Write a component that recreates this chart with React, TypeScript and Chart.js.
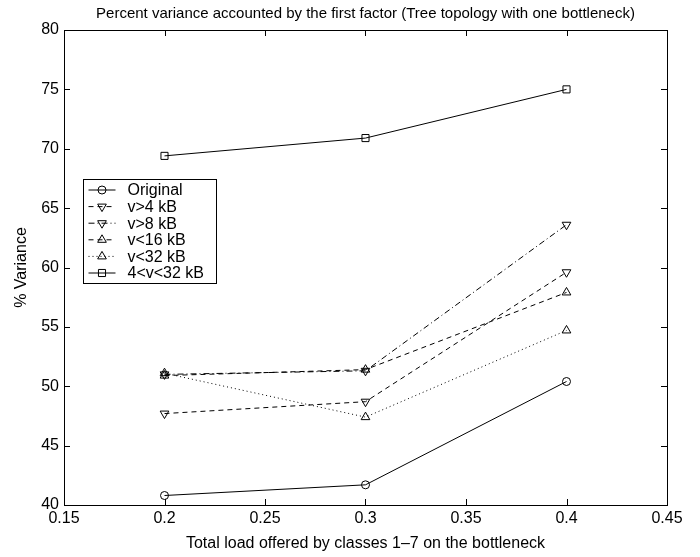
import { useEffect, useRef } from 'react';
import { Chart, registerables } from 'chart.js';

Chart.register(...registerables);

// ---- data ----
const loads = [0.2, 0.3, 0.4];
const seriesNames = ['Original', 'v>4 kB', 'v>8 kB', 'v<16 kB', 'v<32 kB', '4<v<32 kB'];
const original = [40.8, 41.7, 50.4];
const vGt4 = [47.7, 48.7, 59.6];
const vGt8 = [51.0, 51.3, 63.6];
const vLt16 = [50.9, 51.4, 57.9];
const vLt32 = [51.1, 47.4, 54.7];
const v4to32 = [69.4, 70.9, 75.0];
const xTicks = [0.15, 0.2, 0.25, 0.3, 0.35, 0.4, 0.45];
const yTicks = [40, 45, 50, 55, 60, 65, 70, 75, 80];

const chartTitle = 'Percent variance accounted by the first factor (Tree topology with one bottleneck)';
const xTitle = 'Total load offered by classes 1\u20137 on the bottleneck';
const yTitle = '% Variance';

// ---- styles ----
const FONT_FAMILY = '"Liberation Sans", Arial, Helvetica, sans-serif';
const seriesValues = [original, vGt4, vGt8, vLt16, vLt32, v4to32];
const dashes: number[][] = [[], [5, 4], [6, 3, 1, 3], [5, 4], [1, 3], []];
const markers = ['circle', 'triangle', 'triangle', 'triangle', 'triangle', 'rect'];
const rotations = [0, 180, 180, 0, 0, 0];
const radii = [4, 5, 5, 5, 5, 5];

function drawMarker(ctx: CanvasRenderingContext2D, style: string, x: number, y: number, r: number, rot: number) {
  ctx.save();
  ctx.setLineDash([]);
  ctx.beginPath();
  if (style === 'circle') {
    ctx.arc(x, y, r, 0, Math.PI * 2);
  } else if (style === 'triangle') {
    let rad = (rot * Math.PI) / 180;
    ctx.moveTo(x + Math.sin(rad) * r, y - Math.cos(rad) * r);
    rad += (2 * Math.PI) / 3;
    ctx.lineTo(x + Math.sin(rad) * r, y - Math.cos(rad) * r);
    rad += (2 * Math.PI) / 3;
    ctx.lineTo(x + Math.sin(rad) * r, y - Math.cos(rad) * r);
    ctx.closePath();
  } else {
    const s = Math.SQRT1_2 * r;
    ctx.rect(x - s, y - s, 2 * s, 2 * s);
  }
  ctx.stroke();
  ctx.restore();
}

const framePlugin = {
  id: 'matlabFrame',
  afterDraw(chart: any) {
    const { ctx, chartArea } = chart;
    const { left, right, top, bottom } = chartArea;
    const xs = chart.scales.x;
    const ys = chart.scales.y;
    ctx.save();
    // title, centred over the axes
    ctx.fillStyle = '#000';
    ctx.font = '15px ' + FONT_FAMILY;
    ctx.textAlign = 'center';
    ctx.textBaseline = 'middle';
    ctx.fillText(chartTitle, (left + right) / 2, 14);

    ctx.strokeStyle = '#000';
    ctx.lineWidth = 1;
    ctx.setLineDash([]);
    // box
    ctx.strokeRect(Math.round(left) + 0.5, Math.round(top) + 0.5, Math.round(right - left), Math.round(bottom - top));
    // inward ticks
    const tl = 6;
    ctx.beginPath();
    xTicks.forEach((v) => {
      const px = Math.round(xs.getPixelForValue(v)) + 0.5;
      ctx.moveTo(px, bottom);
      ctx.lineTo(px, bottom - tl);
      ctx.moveTo(px, top);
      ctx.lineTo(px, top + tl);
    });
    yTicks.forEach((v) => {
      const py = Math.round(ys.getPixelForValue(v)) + 0.5;
      ctx.moveTo(left, py);
      ctx.lineTo(left + tl, py);
      ctx.moveTo(right, py);
      ctx.lineTo(right - tl, py);
    });
    ctx.stroke();

    // legend
    const bx = 83.5, by = 179.5, bw = 133, rowH = 16.6;
    const bh = 104;
    ctx.fillStyle = '#fff';
    ctx.fillRect(bx, by, bw, bh);
    ctx.strokeRect(bx, by, bw, bh);
    ctx.font = '16px ' + FONT_FAMILY;
    ctx.textBaseline = 'middle';
    ctx.textAlign = 'left';
    seriesNames.forEach((name, i) => {
      const cy = by + 10.5 + i * rowH;
      ctx.strokeStyle = '#000';
      ctx.setLineDash(dashes[i]);
      ctx.beginPath();
      ctx.moveTo(bx + 5, cy);
      ctx.lineTo(bx + 32, cy);
      ctx.stroke();
      drawMarker(ctx, markers[i], bx + 18.5, cy, radii[i], rotations[i]);
      ctx.fillStyle = '#000';
      ctx.fillText(name, bx + 44, cy + 1);
    });
    ctx.restore();
  },
};

export default function App() {
  const ref = useRef<HTMLCanvasElement>(null);
  useEffect(() => {
    const font = { family: FONT_FAMILY, size: 16, weight: 'normal' as const };
    const chart = new Chart(ref.current!, {
      type: 'line',
      data: {
        datasets: seriesNames.map((name, i) => ({
          label: name,
          data: loads.map((x, j) => ({ x, y: seriesValues[i][j] })),
          borderColor: '#000',
          borderWidth: 1,
          borderDash: dashes[i],
          pointStyle: markers[i] as any,
          pointRotation: rotations[i],
          pointRadius: radii[i],
          pointBorderColor: '#000',
          pointBackgroundColor: 'rgba(0,0,0,0)',
          pointBorderWidth: 1,
          fill: false,
          tension: 0,
        })),
      },
      options: {
        responsive: false,
        devicePixelRatio: 1,
        animation: false,
        layout: { padding: { left: 0, right: 33, top: 30, bottom: 0 } },
        plugins: {
          legend: { display: false },
          tooltip: { enabled: false },
          title: { display: false },
        },
        scales: {
          x: {
            type: 'linear',
            min: 0.15,
            max: 0.45,
            afterBuildTicks: (s: any) => {
              s.ticks = xTicks.map((v) => ({ value: v }));
            },
            afterFit: (s: any) => {
              s.height = 52;
            },
            ticks: {
              color: '#000',
              font,
              padding: 4,
              autoSkip: false,
              maxRotation: 0,
              callback: (v: any) => String(Math.round(Number(v) * 100) / 100),
            },
            grid: { display: false, drawTicks: false, tickLength: 0 },
            border: { display: false },
            title: { display: true, text: xTitle, color: '#000', font, padding: { top: 0, bottom: 4 } },
          },
          y: {
            type: 'linear',
            min: 40,
            max: 80,
            afterBuildTicks: (s: any) => {
              s.ticks = yTicks.map((v) => ({ value: v }));
            },
            afterFit: (s: any) => {
              s.width = 64;
            },
            ticks: {
              color: '#000',
              font,
              padding: 5,
              autoSkip: false,
              callback: (v: any) => String(v),
            },
            grid: { display: false, drawTicks: false, tickLength: 0 },
            border: { display: false },
            title: { display: true, text: yTitle, color: '#000', font, padding: { top: 12, bottom: 0 } },
          },
        },
      },
      plugins: [framePlugin],
    });
    return () => chart.destroy();
  }, []);
  return (
    <div style={{ position: 'fixed', left: 0, top: 0, width: 700, height: 557, background: '#fff' }}>
      <canvas ref={ref} width={700} height={557} style={{ width: 700, height: 557, display: 'block' }} />
    </div>
  );
}
